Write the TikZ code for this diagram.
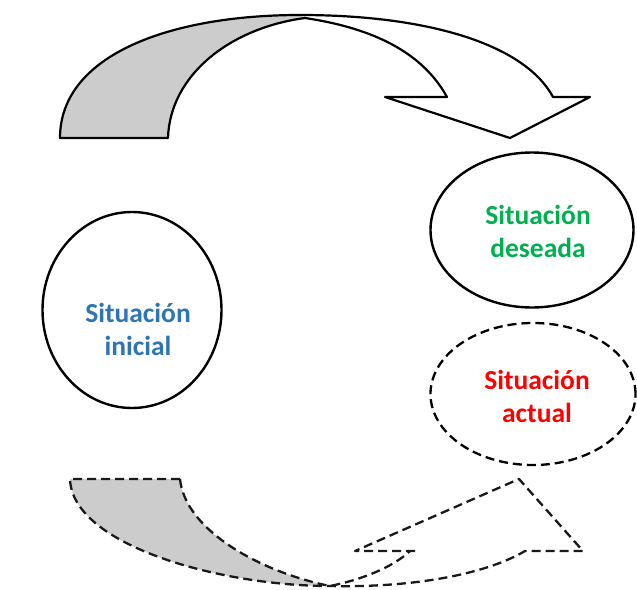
\documentclass[tikz,border=0pt]{standalone}
\usepackage{fontspec}
\setmainfont{Carlito}
\usetikzlibrary{shapes.geometric}
\definecolor{ablue}{HTML}{2E75B6}
\definecolor{agreen}{HTML}{00B050}
\definecolor{ared}{HTML}{FF0000}
\definecolor{agray}{HTML}{CCCCCC}
\tikzset{
  solidline/.style={draw=black, line width=2.2pt, line join=round},
  dashline/.style={draw=black!90, line width=2.3pt, dash pattern=on 9pt off 5pt, line join=round},
  oval/.style={ellipse, draw=black, line width=2.4pt, inner sep=0pt},
  lbl/.style={font=\fontsize{27.5}{33}\selectfont\bfseries, align=center},
}
\begin{document}
\begin{tikzpicture}[x=1pt,y=-1pt]
\useasboundingbox (0,0) rectangle (637,589);
% top curved arrow
\coordinate (tA) at (60,138);
\coordinate (tB) at (168,138);
\coordinate (tX) at (305,18);
\coordinate (tR) at (553,97);
\coordinate (tRB) at (590,97);
\coordinate (tTip) at (510,138);
\coordinate (tLB) at (385,97);
\coordinate (tI) at (447,97);
\fill[agray] (tA) .. controls (60,55) and (170,15) .. (300,15) -- (tX)
  .. controls (230,28) and (170,75) .. (tB) -- cycle;
\draw[solidline] (tA) .. controls (60,55) and (170,15) .. (300,15)
  .. controls (430,15) and (525,45) .. (tR) -- (tRB) -- (tTip) -- (tLB) -- (tI)
  .. controls (420,48) and (365,27) .. (tX)
  .. controls (230,28) and (170,75) .. (tB) -- cycle;
% bottom dashed curved arrow
\coordinate (bA) at (70,479);
\coordinate (bB) at (180,479);
\coordinate (bM) at (330,586);
\coordinate (bR) at (525,551);
\coordinate (bRB) at (583,551);
\coordinate (bTip) at (519,479);
\coordinate (bLB) at (355,551);
\coordinate (bI) at (416,551);
\coordinate (bJ) at (410,551);
\fill[agray] (bA) .. controls (72,545) and (220,586) .. (bM)
  .. controls (260,572) and (185,530) .. (bB) -- cycle;
\draw[dashline] (bB) -- (bA) .. controls (72,545) and (220,586) .. (bM)
  .. controls (420,588) and (490,572) .. (bR) -- (bRB) -- (bTip) -- (bLB) -- (bI);
\draw[dashline] (bB) .. controls (185,530) and (260,572) .. (bM)
  .. controls (360,580) and (392,568) .. (bJ);
% ellipses
\node[oval, minimum width=179pt, minimum height=196pt] (ini) at (132,310) {};
\node[oval, minimum width=203pt, minimum height=155pt] (des) at (532,230) {};
\node[oval, line width=2.3pt, dash pattern=on 9pt off 5pt, minimum width=205pt, minimum height=142pt] (act) at (533,394) {};
% labels
\node[lbl, text=ablue] (tini) at (138,329) {Situación\\inicial};
\node[lbl, text=agreen] (tdes) at (538,231) {Situación\\deseada};
\node[lbl, text=ared] (tact) at (537,396) {Situación\\actual};
\end{tikzpicture}
\end{document}
